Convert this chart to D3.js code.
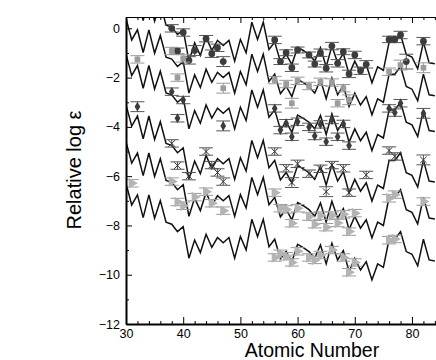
<!DOCTYPE html>
<html>
<head>
<meta charset="utf-8">
<script src="https://cdn.jsdelivr.net/npm/d3@7"></script>
<style>
	body { margin: 0; background: #fff; }
	svg { display: block; }
	text { font-family: "Liberation Sans", Arial, sans-serif; }
</style>
</head>
<body>
<div id="chart"></div>
<script>
// scaled solar r-process pattern (lowest curve), shifted up for each star
const modelZ = [30, 31, 32, 33, 34, 35, 36, 37, 38, 39, 40, 41, 42, 43, 44, 45, 46, 47, 48, 49, 50, 51, 52, 53, 54, 55, 56, 57, 58, 59, 60, 61, 62, 63, 64, 65, 66, 67, 68, 69, 70, 71, 72, 73, 74, 75, 76, 77, 78, 79, 80, 81, 82, 83, 84];
const modelPattern = [-6.3, -7.17, -6.76, -7.68, -6.76, -7.71, -6.99, -7.87, -7.95, -8.25, -8.05, -9.33, -8.59, -9.1, -8.36, -8.89, -8.49, -8.7, -8.49, -9.33, -8.45, -8.99, -7.75, -8.45, -7.75, -8.86, -8.56, -9.35, -9.05, -9.47, -8.77, -8.9, -9.06, -9.33, -8.79, -9.56, -8.72, -9.4, -9.02, -9.87, -9.33, -9.81, -9.47, -10.21, -9.56, -9.7, -8.56, -8.56, -8.25, -9.06, -9.17, -9.64, -8.56, -9.4, -9.44];
const modelOffsets = [8.0, 6.7, 5.25, 3.2, 1.7, 0];

// observed stars: [Z, relative log eps, error]
const starCircles = [[38, 0.0, 0.15], [39, -0.92, 0.12], [40, -0.17, 0.15], [41, -1.3, 0.15], [42, -0.9, 0.2], [44, -0.42, 0.13], [45, -1.03, 0.15], [46, -0.79, 0.15], [47, -1.35, 0.2], [56, -0.47, 0.15], [57, -1.35, 0.12], [58, -0.99, 0.12], [59, -1.6, 0.15], [60, -0.88, 0.12], [62, -1.08, 0.12], [63, -1.45, 0.12], [64, -0.99, 0.15], [65, -1.62, 0.15], [66, -0.72, 0.15], [67, -1.42, 0.15], [68, -0.95, 0.12], [69, -1.85, 0.15], [70, -1.08, 0.15], [71, -1.72, 0.15], [72, -1.46, 0.15], [76, -0.45, 0.13], [77, -0.45, 0.13], [78, -0.27, 0.15], [79, -1.35, 0.3], [82, -0.52, 0.15]];
const starSquares = [[32, -1.26, 0.15], [38, -0.92, 0.15], [39, -2.0, 0.15], [40, -1.22, 0.15], [47, -2.43, 0.2], [56, -2.1, 0.15], [58, -2.26, 0.15], [59, -3.04, 0.2], [60, -2.13, 0.15], [62, -2.34, 0.15], [64, -2.17, 0.15], [66, -2.2, 0.15], [67, -3.04, 0.15], [68, -2.43, 0.15], [69, -2.9, 0.2], [76, -1.76, 0.15], [78, -1.49, 0.2], [82, -1.6, 0.2]];
const starDiamonds = [[32, -3.18, 0.2], [38, -2.57, 0.15], [39, -3.65, 0.15], [40, -2.91, 0.15], [47, -3.96, 0.2], [56, -3.25, 0.15], [57, -4.13, 0.15], [58, -3.85, 0.15], [59, -4.4, 0.15], [60, -3.79, 0.15], [62, -4.0, 0.15], [63, -4.37, 0.15], [64, -3.9, 0.15], [65, -4.6, 0.15], [66, -3.72, 0.15], [67, -4.4, 0.15], [68, -3.88, 0.15], [69, -4.76, 0.15], [76, -3.25, 0.15], [77, -3.42, 0.15], [78, -3.04, 0.15], [82, -3.45, 0.2]];
const starCrosses = [[38, -4.67, 0.15], [39, -5.57, 0.15], [41, -6.0, 0.15], [44, -5.0, 0.15], [45, -5.55, 0.15], [46, -5.85, 0.15], [47, -6.22, 0.15], [56, -5.0, 0.15], [58, -5.68, 0.15], [59, -6.26, 0.2], [60, -5.5, 0.15], [62, -5.9, 0.15], [64, -5.7, 0.15], [65, -6.63, 0.2], [66, -5.55, 0.15], [68, -5.68, 0.15], [69, -6.67, 0.15], [72, -5.95, 0.15], [76, -4.96, 0.15], [77, -5.2, 0.15], [82, -5.34, 0.2]];
const starTriangles = [[31, -6.29, 0.15], [38, -6.22, 0.15], [39, -7.05, 0.15], [40, -7.2, 0.15], [42, -6.85, 0.15], [44, -6.63, 0.15], [45, -7.1, 0.15], [47, -7.4, 0.15], [56, -6.67, 0.15], [57, -7.3, 0.15], [58, -7.35, 0.15], [59, -7.91, 0.15], [60, -7.3, 0.15], [62, -7.64, 0.15], [63, -7.95, 0.15], [64, -7.6, 0.15], [65, -8.07, 0.15], [66, -7.6, 0.15], [67, -7.9, 0.15], [68, -7.55, 0.15], [69, -8.25, 0.15], [70, -7.5, 0.15], [76, -6.9, 0.15], [77, -6.75, 0.15], [82, -7.03, 0.15]];
const starBottom = [[56, -9.3, 0.15], [57, -9.15, 0.15], [58, -9.25, 0.15], [59, -9.5, 0.15], [60, -9.05, 0.15], [62, -9.3, 0.15], [63, -9.4, 0.15], [64, -9.2, 0.15], [66, -9.0, 0.15], [68, -9.3, 0.15], [69, -9.9, 0.15], [70, -9.5, 0.15], [76, -8.6, 0.15], [77, -8.55, 0.15]];

const xMajorTicks = [30, 40, 50, 60, 70, 80];
const xMinorTicks = [32, 34, 36, 38, 42, 44, 46, 48, 52, 54, 56, 58, 62, 64, 66, 68, 72, 74, 76, 78, 82, 84];
const yMajorTicks = [-12, -10, -8, -6, -4, -2, 0];
const yMinorTicks = [-11, -9, -7, -5, -3, -1];

const width = 436;
const height = 360;

const margin = {
	top: 17,
	bottom: 36,
	left: 126,
	right: 0,
};

const svg = d3
	.select("#chart")
	.append("svg")
	.attr("width", width)
	.attr("height", height);

const x = d3
	.scaleLinear()
	.domain([30, 84.2])
	.range([margin.left, width - margin.right]);

const y = d3
	.scaleLinear()
	.domain([-12, 0.46])
	.range([height - margin.bottom, margin.top]);

svg
	.append("clipPath")
	.attr("id", "plot-clip")
	.append("rect")
	.attr("x", margin.left)
	.attr("y", margin.top)
	.attr("width", width - margin.left - margin.right)
	.attr("height", height - margin.top - margin.bottom);

const plot = svg.append("g").attr("clip-path", "url(#plot-clip)");

// model curves
const line = d3
	.line()
	.x((d) => x(d[0]))
	.y((d) => y(d[1]));

modelOffsets.forEach((off) => {
	const pts = modelZ.map((z, i) => [z, modelPattern[i] + off]);
	plot
		.append("path")
		.datum(pts)
		.attr("fill", "none")
		.attr("stroke", "#111")
		.attr("stroke-width", 1.5)
		.attr("stroke-linejoin", "miter")
		.attr("d", line);
});

// error bars + markers for each star
const capHalf = 7;

function drawStar(data, barColor, drawMarker) {
	const g = plot.append("g");
	data.forEach((d) => {
		const cx = x(d[0]);
		const top = y(d[1] + d[2]);
		const bot = y(d[1] - d[2]);
		g.append("line")
			.attr("x1", cx).attr("x2", cx)
			.attr("y1", top).attr("y2", bot)
			.attr("stroke", barColor).attr("stroke-width", 1);
		[top, bot].forEach((cy) => {
			g.append("line")
				.attr("x1", cx - capHalf).attr("x2", cx + capHalf)
				.attr("y1", cy).attr("y2", cy)
				.attr("stroke", barColor).attr("stroke-width", 1);
		});
	});
	data.forEach((d) => drawMarker(g, x(d[0]), y(d[1])));
}

const symbol = (type, size) => d3.symbol().type(type).size(size)();

drawStar(starCircles, "#555", (g, cx, cy) =>
	g.append("circle").attr("cx", cx).attr("cy", cy).attr("r", 3.4).attr("fill", "#3c3c3c"),
);

drawStar(starSquares, "#999", (g, cx, cy) =>
	g.append("path").attr("d", symbol(d3.symbolSquare, 32))
		.attr("transform", `translate(${cx},${cy})`).attr("fill", "#9c9c9c"),
);

drawStar(starDiamonds, "#555", (g, cx, cy) =>
	g.append("path").attr("d", symbol(d3.symbolDiamond, 28))
		.attr("transform", `translate(${cx},${cy})`).attr("fill", "#3c3c3c"),
);

drawStar(starCrosses, "#555", (g, cx, cy) =>
	g.append("path").attr("d", symbol(d3.symbolTimes, 30))
		.attr("transform", `translate(${cx},${cy})`)
		.attr("fill", "none").attr("stroke", "#333").attr("stroke-width", 1),
);

drawStar(starTriangles, "#999", (g, cx, cy) =>
	g.append("path").attr("d", symbol(d3.symbolTriangle, 48))
		.attr("transform", `translate(${cx},${cy}) rotate(90)`).attr("fill", "#b4b4b4"),
);

drawStar(starBottom, "#999", (g, cx, cy) =>
	g.append("path").attr("d", symbol(d3.symbolTriangle, 48))
		.attr("transform", `translate(${cx},${cy}) rotate(90)`).attr("fill", "#b4b4b4"),
);

// axes
const bottomAxis = svg
	.append("g")
	.attr("transform", `translate(0, ${height - margin.bottom})`)
	.call(d3.axisBottom(x).tickValues(xMajorTicks).tickSizeInner(-7).tickSizeOuter(0).tickPadding(5));

svg
	.append("g")
	.attr("transform", `translate(0, ${height - margin.bottom})`)
	.call(d3.axisBottom(x).tickValues(xMinorTicks).tickSizeInner(-3).tickSizeOuter(0).tickFormat(""))
	.call((g) => g.select(".domain").remove());

const leftAxis = svg
	.append("g")
	.attr("transform", `translate(${margin.left}, 0)`)
	.call(d3.axisLeft(y).tickValues(yMajorTicks).tickSizeInner(-6).tickSizeOuter(0).tickPadding(6));

svg
	.append("g")
	.attr("transform", `translate(${margin.left}, 0)`)
	.call(d3.axisLeft(y).tickValues(yMinorTicks).tickSizeInner(-3).tickSizeOuter(0).tickFormat(""))
	.call((g) => g.select(".domain").remove());

// top frame with mirrored ticks
svg
	.append("g")
	.attr("transform", `translate(0, ${margin.top})`)
	.call(d3.axisTop(x).tickValues(xMajorTicks).tickSizeInner(-6).tickSizeOuter(0).tickFormat(""));

svg
	.append("g")
	.attr("transform", `translate(0, ${margin.top})`)
	.call(d3.axisTop(x).tickValues(xMinorTicks).tickSizeInner(-3).tickSizeOuter(0).tickFormat(""))
	.call((g) => g.select(".domain").remove());

svg.selectAll(".tick text")
	.style("font-size", "12.5px")
	.style("font-family", "'Liberation Sans', Arial, sans-serif")
	.attr("fill", "#000");

bottomAxis.select(".domain").attr("stroke-width", 2);
leftAxis.select(".domain").attr("stroke-width", 2);

// axis labels
svg
	.append("text")
	.attr("x", 312)
	.attr("y", 357)
	.style("text-anchor", "middle")
	.style("font-size", "19.5px")
	.text("Atomic Number");

svg
	.append("text")
	.attr("transform", "translate(81, 170) rotate(-90)")
	.style("text-anchor", "middle")
	.style("font-size", "20px")
	.text("Relative log ε");
</script>
</body>
</html>
